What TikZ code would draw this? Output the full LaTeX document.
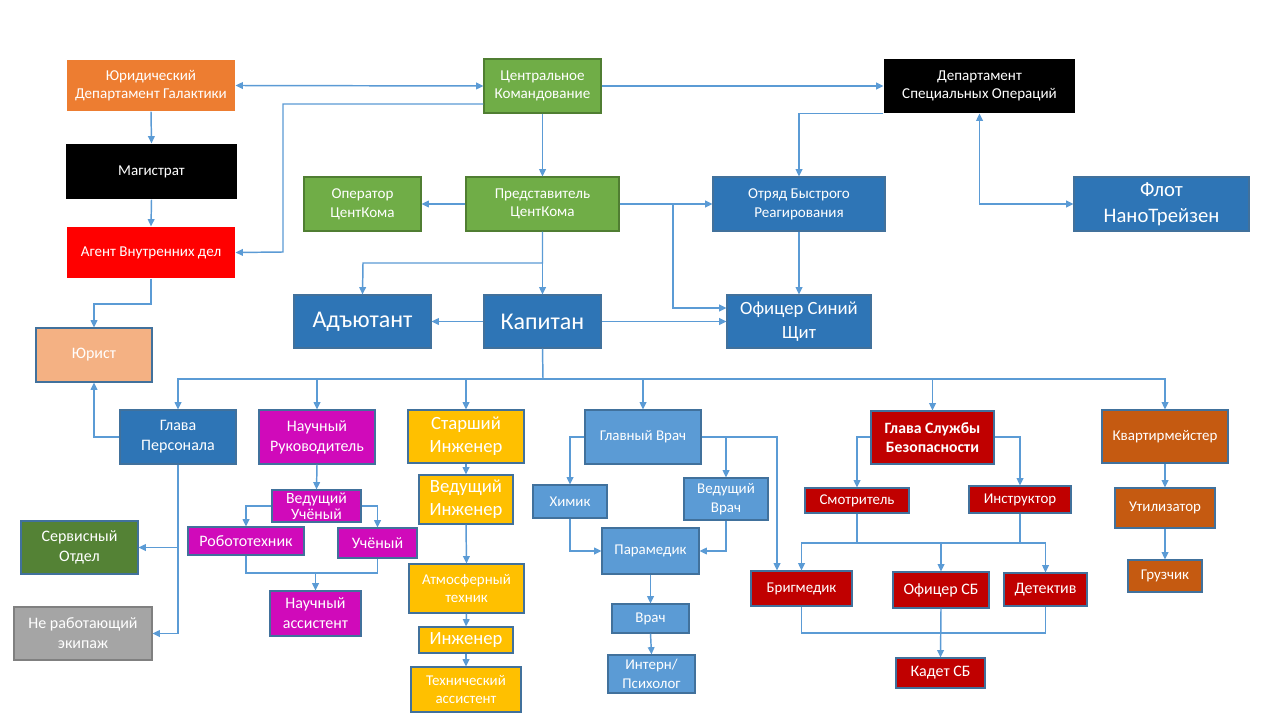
\documentclass[tikz,border=0pt]{standalone}
\usepackage{fontspec}
\setmainfont{Carlito}
\usetikzlibrary{arrows.meta,calc}
\definecolor{conn}{HTML}{5B9BD5}
\definecolor{bord}{HTML}{41719C}
\definecolor{cblue}{HTML}{2E75B6}
\definecolor{cmed}{HTML}{5B9BD5}
\definecolor{cgreen}{HTML}{70AD47}
\definecolor{cgreenb}{HTML}{507E32}
\definecolor{cdgreen}{HTML}{548235}
\definecolor{cgray}{HTML}{A5A5A5}
\definecolor{camber}{HTML}{FFC000}
\definecolor{corange}{HTML}{ED7D31}
\definecolor{clorange}{HTML}{F4B183}
\definecolor{cdred}{HTML}{C00000}
\definecolor{cbrown}{HTML}{C55A11}
\definecolor{cmag}{RGB}{208,10,186}
\tikzset{
  box/.style={draw=bord,line width=0.8pt,text=white,align=center,inner sep=0pt,font=\fontsize{11.3}{14}\selectfont},
  nob/.style={draw=none},
  fa/.style={font=\fontsize{11.3}{14}\selectfont},
  fb/.style={font=\fontsize{11.2}{14}\selectfont},
  fc/.style={font=\fontsize{12}{15}\selectfont},
  fd/.style={font=\fontsize{14}{17.5}\selectfont},
  ff/.style={font=\fontsize{15.5}{19.5}\selectfont},
  fe/.style={font=\fontsize{18}{21}\selectfont},
  link/.style={draw=conn,line width=1.1pt},
  arr/.style={link,-{Triangle[length=5.5pt,width=5pt]}},
  dbl/.style={link,{Triangle[length=5.5pt,width=5pt]}-{Triangle[length=5.5pt,width=5pt]}},
}
\newcommand\bx[7]{%
  \pgfmathsetmacro\cx{(#2+#4)/2}\pgfmathsetmacro\cy{(#3+#5)/2}%
  \pgfmathsetmacro\ww{(#4-#2)*0.75}\pgfmathsetmacro\hh{(#5-#3)*0.75}%
  \node[box,#6,minimum width=\ww pt,minimum height=\hh pt] (#1) at (\cx,\cy) {#7};}
\begin{document}
\begin{tikzpicture}[x=0.75pt,y=-0.75pt]
\useasboundingbox (0,0) rectangle (1280,720);
\fill[white] (0,0) rectangle (1280,720);
% top
\bx{yur}{67}{60}{235}{111}{fill=corange,nob,fa}{Юридический\\Департамент Галактики}
\bx{mag}{66}{144}{237}{199}{fill=black,nob,fa}{Магистрат}
\bx{agent}{67}{227}{235}{278}{fill=red,nob,fa}{Агент Внутренних дел}
\bx{yurist}{36}{328}{152}{382}{fill=clorange,fc}{Юрист}
\bx{cc}{484}{59}{601}{113}{fill=cgreen,draw=cgreenb,fa}{Центральное\\Командование}
\bx{oper}{304}{177}{421}{231}{fill=cgreen,draw=cgreenb,fa}{Оператор\\ЦентКома}
\bx{pred}{466}{177}{619}{231}{fill=cgreen,draw=cgreenb,fa}{Представитель\\ЦентКома}
\bx{adj}{294}{295}{431}{348}{fill=cblue,fe}{Адъютант}
\bx{kap}{484}{295}{601}{348}{fill=cblue,fe}{Капитан}
\bx{dso}{884}{59}{1075}{113}{fill=black,nob,fa}{Департамент\\Специальных Операций}
\bx{obr}{713}{177}{885}{231}{fill=cblue,fa}{Отряд Быстрого\\Реагирования}
\bx{flot}{1074}{177}{1249}{231}{fill=cblue,ff}{Флот\\НаноТрейзен}
\bx{osch}{727}{295}{871}{348}{fill=cblue,fd}{Офицер Синий\\Щит}
% personnel
\bx{gp}{120}{410}{236}{464}{fill=cblue,fc}{Глава\\Персонала}
\bx{servis}{21}{521}{138}{574}{fill=cdgreen,fc}{Сервисный\\Отдел}
\bx{ne}{14}{607}{152}{660}{fill=cgray,draw=gray,fc}{Не работающий\\экипаж}
% science
\bx{nr}{259}{410}{375}{464}{fill=cmag,fc}{Научный\\Руководитель}
\bx{vu}{272}{490}{361}{522}{fill=cmag,font=\fontsize{11.8}{12}\selectfont}{Ведущий\\Учёный}
\bx{robo}{188}{527}{304}{555}{fill=cmag,fc}{Робототехник}
\bx{uch}{338}{528}{417}{558}{fill=cmag,fc}{Учёный}
\bx{na}{270}{591}{361}{636}{fill=cmag,fc}{Научный\\ассистент}
% engineering
\bx{si}{408}{410}{524}{463}{fill=camber,fd}{Старший\\Инженер}
\bx{vi}{419}{475}{513}{524}{fill=camber,fd}{Ведущий\\Инженер}
\bx{atm}{409}{564}{524}{613}{fill=camber,fb}{Атмосферный\\техник}
\bx{ing}{419}{627}{513}{653}{fill=camber,fd}{Инженер}
\bx{ta}{411}{667}{521}{712}{fill=camber,fb}{Технический\\ассистент}
% medical
\bx{gv}{585}{410}{701}{464}{fill=cmed,fb}{Главный Врач}
\bx{him}{533}{485}{607}{518}{fill=cmed,fb}{Химик}
\bx{vv}{684}{478}{768}{520}{fill=cmed,fb}{Ведущий\\Врач}
\bx{par}{602}{528}{699}{574}{fill=cmed,fb}{Парамедик}
\bx{vr}{612}{604}{689}{633}{fill=cmed,fb}{Врач}
\bx{int}{608}{655}{695}{693}{fill=cmed,fb}{Интерн/\\Психолог}
% security
\bx{gsb}{871}{411}{994}{464}{fill=cdred,font=\fontsize{11.8}{14.5}\selectfont\bfseries}{Глава Службы\\Безопасности}
\bx{smo}{805}{488}{909}{513}{fill=cdred,fb}{Смотритель}
\bx{ins}{969}{486}{1071}{513}{fill=cdred,fb}{Инструктор}
\bx{brig}{751}{571}{852}{606}{fill=cdred,fb}{Бригмедик}
\bx{osb}{893}{572}{989}{608}{fill=cdred,fc}{Офицер СБ}
\bx{det}{1004}{573}{1087}{606}{fill=cdred,fc}{Детектив}
\bx{kad}{896}{658}{985}{688}{fill=cdred,fc}{Кадет СБ}
% cargo
\bx{qm}{1102}{410}{1228}{463}{fill=cbrown,fb}{Квартирмейстер}
\bx{util}{1115}{488}{1215}{528}{fill=cbrown,fb}{Утилизатор}
\bx{gruz}{1128}{560}{1202}{592}{fill=cbrown,fb}{Грузчик}

% connectors top
\draw[dbl] (yur.east) -- (cc.west);
\draw[arr] (yur.south) -- (mag.north);
\draw[arr] (mag.south) -- (agent.north);
\draw[arr] (agent.south) |- (94,304) -- (yurist.north);
\draw[arr] (cc.west |- 0,104) -| (283,252) -- (agent.east);
\draw[arr] (cc.south) -- (pred.north);
\draw[arr] (pred.west) -- (oper.east);
\draw[arr] (pred.south) |- (363,263) -- (adj.north);
\draw[arr] (pred.south) -- (kap.north);
\draw[arr] (kap.west) -- (adj.east);
\draw[arr] (cc.east) -- (dso.west);
\draw[arr] (dso.south west) -| (obr.north);
\draw[dbl] (dso.south) |- (flot.west);
\draw[arr] (pred.east) -- (obr.west);
\coordinate (j1) at (673,204);
\draw[arr] (j1) |- (osch.west |- 0,308);
\draw[arr] (kap.east) -- (osch.west |- kap.east);
\draw[arr] (obr.south) -- (osch.north);
% bus
\coordinate (bus) at (543,379);
\draw[link] (kap.south) -- (bus);
\draw[arr] (bus) -| (gp.north);
\draw[arr] (bus) -| (nr.north);
\draw[arr] (bus) -| (si.north);
\draw[arr] (bus) -| (gv.north);
\draw[arr] (bus) -| (gsb.north);
\draw[arr] (bus) -| (qm.north);
% personnel
\draw[arr] (gp.west |- 0,437) -| (yurist.south);
\draw[arr] (gp.south) |- (servis.east);
\draw[arr] (gp.south) |- (ne.east);
% science
\draw[arr] (nr.south) -- (vu.north);
\draw[arr] (vu.west) -| (robo.north);
\draw[arr] (vu.east) -| (uch.north);
\draw[link] (robo.south) |- (na.north |- 0,573);
\draw[link] (uch.south) |- (na.north |- 0,573);
\draw[arr] (na.north |- 0,573) -- (na.north);
% engineering
\draw[arr] (si.south) -- (vi.north);
\draw[arr] (vi.south) -- (atm.north);
\draw[arr] (atm.south) -- (ing.north);
\draw[arr] (ing.south) -- (ta.north);
% medical
\draw[arr] (gv.west |- 0,437) -| (him.north);
\draw[arr] (gv.east |- 0,437) -| (vv.north);
\draw[arr] (gv.east |- 0,437) -| (brig.north -| 777,0);
\draw[arr] (him.south) |- (par.west);
\draw[arr] (vv.south) |- (par.east);
\draw[arr] (par.south) -- (vr.north);
\draw[arr] (vr.south) -- (int.north);
% security
\draw[arr] (gsb.west |- 0,437) -| (smo.north);
\draw[arr] (gsb.east |- 0,437) -| (ins.north);
\draw[link] (smo.south) -- (smo.south |- 0,543) -- (ins.south |- 0,543) -- (ins.south);
\draw[arr] (smo.south |- 0,543) -| (brig.north);
\draw[arr] (ins.south |- 0,543) -| (det.north);
\draw[arr] (osb.north |- 0,543) -- (osb.north);
\draw[link] (brig.south) |- (det.south |- 0,633) -- (det.south);
\draw[arr] (osb.south) -- (kad.north);
% cargo
\draw[arr] (qm.south) -- (util.north);
\draw[arr] (util.south) -- (gruz.north);
\end{tikzpicture}
\end{document}
